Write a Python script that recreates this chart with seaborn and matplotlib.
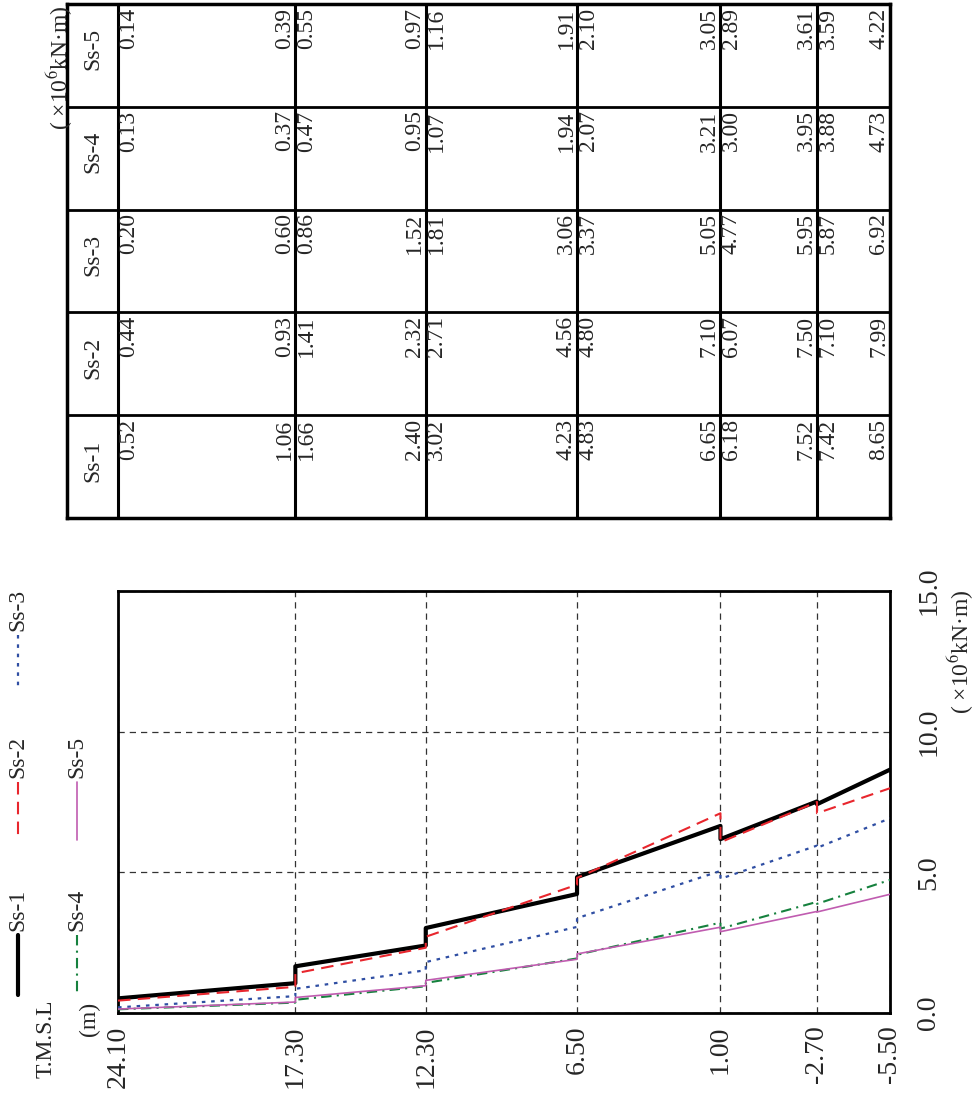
import numpy as np
import pandas as pd
import matplotlib
matplotlib.use('Agg')
import matplotlib.pyplot as plt
import seaborn as sns
from matplotlib.lines import Line2D

elevations = [24.10, 17.30, 12.30, 6.50, 1.00, -2.70, -5.50]
elev_labels = ['24.10', '17.30', '12.30', '6.50', '1.00', '-2.70', '-5.50']
cases = ['Ss-1', 'Ss-2', 'Ss-3', 'Ss-4', 'Ss-5']

# value at the upper end of each segment and at its lower end
seg_top = {
    'Ss-1': [0.52, 1.66, 3.02, 4.83, 6.18, 7.42],
    'Ss-2': [0.44, 1.41, 2.71, 4.80, 6.07, 7.10],
    'Ss-3': [0.20, 0.86, 1.81, 3.37, 4.77, 5.87],
    'Ss-4': [0.13, 0.47, 1.07, 2.07, 3.00, 3.88],
    'Ss-5': [0.14, 0.55, 1.16, 2.10, 2.89, 3.59],
}
seg_bot = {
    'Ss-1': [1.06, 2.40, 4.23, 6.65, 7.52, 8.65],
    'Ss-2': [0.93, 2.32, 4.56, 7.10, 7.50, 7.99],
    'Ss-3': [0.60, 1.52, 3.06, 5.05, 5.95, 6.92],
    'Ss-4': [0.37, 0.95, 1.94, 3.21, 3.95, 4.73],
    'Ss-5': [0.39, 0.97, 1.91, 3.05, 3.61, 4.22],
}
moment_ticks = [0.0, 5.0, 10.0, 15.0]
moment_labels = ['0.0', '5.0', '10.0', '15.0']

colors = {'Ss-1': 'black', 'Ss-2': '#e8262d', 'Ss-3': '#2f4ea3',
          'Ss-4': '#16813e', 'Ss-5': '#c05cb0'}
widths = {'Ss-1': 3.0, 'Ss-2': 1.5, 'Ss-3': 1.6, 'Ss-4': 1.5, 'Ss-5': 1.2}
styles = {'Ss-1': '-', 'Ss-2': (0, (6, 3.5)), 'Ss-3': (0, (1.6, 2.6)),
          'Ss-4': (0, (5, 2.5, 1, 2.5)), 'Ss-5': '-'}
zorders = {'Ss-1': 6, 'Ss-2': 7, 'Ss-3': 5, 'Ss-4': 4, 'Ss-5': 5}

sns.set_style('white')
plt.rcParams['font.family'] = ['Liberation Serif', 'DejaVu Serif']
plt.rcParams['mathtext.fontset'] = 'stix'

# long table of line vertices (step at each boundary)
rows = []
for c in cases:
    for i in range(6):
        rows.append((c, elevations[i], seg_top[c][i]))
        rows.append((c, elevations[i + 1], seg_bot[c][i]))
df = pd.DataFrame(rows, columns=['case', 'elev', 'moment'])

fig = plt.figure(figsize=(9.78, 11.10), dpi=100)
W, H = 978.0, 1110.0

# ---- chart ----
ax = fig.add_axes([118 / W, 1 - 1013 / H, (890 - 118) / W, (1013 - 591) / H])
for c in cases:
    d = df[df['case'] == c]
    sns.lineplot(x=d['elev'].values, y=d['moment'].values, ax=ax, color=colors[c],
                 lw=widths[c], linestyle=styles[c], estimator=None, sort=False,
                 zorder=zorders[c])
ax.set_xlim(24.10, -5.50)
ax.set_ylim(0, 15)
ax.set_xticks(elevations)
ax.set_xticklabels(elev_labels)
ax.set_yticks(moment_ticks)
ax.set_yticklabels(moment_labels)
ax.yaxis.tick_right()
ax.tick_params(axis='x', length=0, pad=9, labelrotation=90, labelsize=20)
ax.tick_params(axis='y', length=0, pad=19, labelrotation=90, labelsize=20)
for lbl in ax.get_yticklabels():
    lbl.set_va('center')
ax.grid(True, ls=(0, (5, 4)), color='#333333', lw=0.9)
ax.set_xlabel('')
ax.set_ylabel('')
for s in ax.spines.values():
    s.set_visible(True)
    s.set_color('black')
    s.set_linewidth(2)

fig.text(961 / W, 1 - 652 / H, '( ×10$^{6}$kN·m)', rotation=90, ha='center', va='center', fontsize=17)
fig.text(46 / W, 1 - 1000 / H, 'T.M.S.L', rotation=90, ha='center', va='top', fontsize=17)
fig.text(89 / W, 1 - 1002 / H, '(m)', rotation=90, ha='center', va='top', fontsize=17)

# ---- legend (rotated) ----
leg_pos = {'Ss-1': (18, 935, 995), 'Ss-2': (18, 782, 840), 'Ss-3': (18, 635, 690),
           'Ss-4': (77, 935, 995), 'Ss-5': (77, 782, 840)}
for c in cases:
    x, y0, y1 = leg_pos[c]
    fig.add_artist(Line2D([x / W, x / W], [1 - y0 / H, 1 - y1 / H], color=colors[c],
                          lw=widths[c], linestyle=styles[c], transform=fig.transFigure))
    fig.text(x / W, 1 - (y0 - 4) / H, c, rotation=90, ha='center', va='bottom', fontsize=17)

# ---- table ----
tx0, tx1 = 67, 890
tab = fig.add_axes([tx0 / W, 1 - 518 / H, (tx1 - tx0) / W, (518 - 4) / H])
px_per_m = (890 - 118) / (24.10 + 5.50)
tab.set_xlim(24.10 + (118 - tx0) / px_per_m, -5.50)
tab.set_ylim(0, 5)
tab.set_xticks([])
tab.set_yticks([])
for s in tab.spines.values():
    s.set_visible(True)
    s.set_color('black')
    s.set_linewidth(2.5)
for e in elevations[:-1]:
    tab.axvline(e, color='black', lw=2.2)
for k in range(1, 5):
    tab.axhline(k, color='black', lw=2.0)

dx = 11 / px_per_m
for r, c in enumerate(cases):
    top = r + 1
    tab.text(24.10 + (118 - tx0) / px_per_m / 2, r + 0.56, c, rotation=90,
             ha='center', va='center', fontsize=17)
    for i in range(6):
        tab.text(elevations[i] - dx, top - 0.035, f'{seg_top[c][i]:.2f}', rotation=90,
                 ha='center', va='top', fontsize=17)
        tab.text(elevations[i + 1] + dx, top - 0.035, f'{seg_bot[c][i]:.2f}', rotation=90,
                 ha='center', va='top', fontsize=17)

fig.text(60 / W, 1 - 6 / H, '( ×10$^{6}$kN·m)', rotation=90, ha='center', va='top', fontsize=17)

fig.savefig('out.png', dpi=100)
